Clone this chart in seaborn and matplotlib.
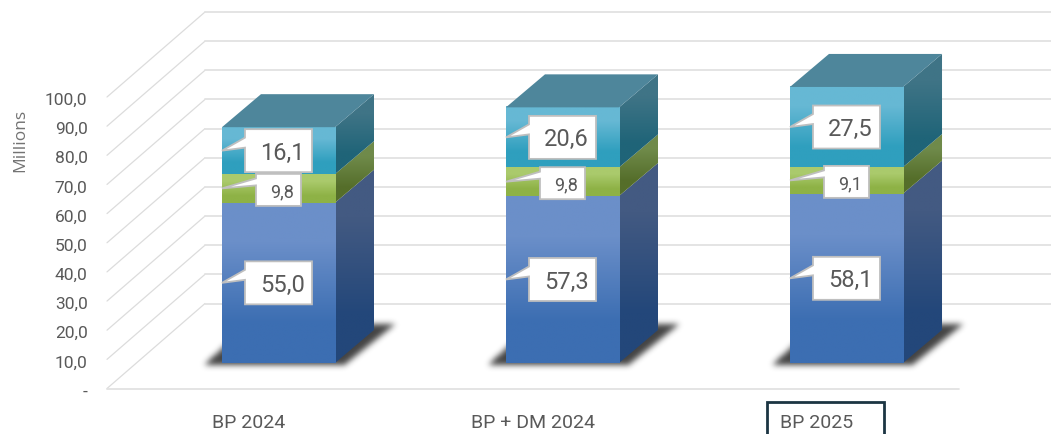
import numpy as np
import pandas as pd
import matplotlib
matplotlib.use('Agg')
import matplotlib.pyplot as plt
import seaborn as sns
from matplotlib.colors import to_rgb
from matplotlib.patches import Polygon, Rectangle
from matplotlib.path import Path
from matplotlib.transforms import ScaledTranslation

categories = ['BP 2024', 'BP + DM 2024', 'BP 2025']
base_values = [55.0, 57.3, 58.1]
middle_values = [9.8, 9.8, 9.1]
top_values = [16.1, 20.6, 27.5]
y_ticks = [0, 10, 20, 30, 40, 50, 60, 70, 80, 90, 100]

# front, side colours of each layer, top colour then bottom colour
base_front = ['#6b8fc9', '#3c6eb2']
base_side = ['#435a82', '#23477a']
middle_front = ['#aaca6c', '#8eb246']
middle_side = ['#6f8a4a', '#556e2a']
top_front = ['#66b8d4', '#2f9fbe']
top_side = ['#3f7486', '#1f6478']
roof_color = '#4e869b'

# pixel scales of the picture
PX_X = 284.0
PX_Y = 2.915


def dx(px):
    return px / PX_X


def dy(px):
    return px / PX_Y


WALL_X, WALL_Y = dx(98), dy(85)
BAR_X, BAR_Y = dx(29.5), dy(25.5)
DEPTH_X, DEPTH_Y = dx(39), dy(33)


def gradient(ax, colors, left, right, low, high, zorder, clip=None):
    rows = np.array([[to_rgb(colors[0])], [to_rgb(colors[1])]])
    im = ax.imshow(rows, extent=(left, right, low, high), aspect='auto',
                   interpolation='bilinear', zorder=zorder)
    if clip is not None:
        im.set_clip_path(clip)


def blurred_shadow(ax, left, right, floor, sigma=3.0):
    # work in pixels around the bar foot, then blur the filled shape
    width = right - left
    w_px = int(width * PX_X)
    xs = np.arange(-45, w_px + 90)
    ys = np.arange(-15, 55)
    shape = [(-19, -3), (w_px + 9, -3), (w_px + 60, 38), (w_px + 36, 38), (4, 18)]
    gx, gy = np.meshgrid(xs, ys)
    mask = Path(shape).contains_points(np.c_[gx.ravel(), gy.ravel()]).reshape(gx.shape).astype(float)
    r = np.arange(-8, 9)
    kernel = np.exp(-r ** 2 / (2 * sigma ** 2))
    kernel /= kernel.sum()
    mask = np.apply_along_axis(np.convolve, 0, mask, kernel, mode='same')
    mask = np.apply_along_axis(np.convolve, 1, mask, kernel, mode='same')
    rgba = np.zeros(mask.shape + (4,))
    rgba[..., :3] = 0.08
    rgba[..., 3] = mask * 0.8
    im = ax.imshow(rgba, origin='lower', aspect='auto', interpolation='bilinear', zorder=2,
                   extent=(left + dx(xs[0]), left + dx(xs[-1]), floor + dy(ys[0]), floor + dy(ys[-1])))
    im.set_clip_on(False)


def callout(ax, left, center, value, small, zorder):
    # box and its pointer share one outline
    box_l = left + dx(34 if small else 23)
    box_r = left + dx(79 if small else 90)
    half = dy(16 if small else 21.5)
    shift = dy(-1.5 if small else 0)
    top = center + half + shift
    low = center - half + shift
    pts = [(left, center), (box_l, center + dy(10 if small else 13)), (box_l, top),
           (box_r, top), (box_r, low), (box_l, low), (box_l, center + dy(3))]
    ax.add_patch(Polygon(pts, closed=True, facecolor='white', edgecolor='#bfbfbf',
                         linewidth=1.3, zorder=zorder))
    ax.text((box_l + box_r) / 2 + dx(4), center + shift, f'{value:.1f}'.replace('.', ','),
            ha='center', va='center_baseline', color='#595959', fontsize=13 if small else 17,
            zorder=zorder + 1)


sns.set_theme(style='white')
plt.rcParams['font.family'] = ['Roboto', 'DejaVu Sans']

fig = plt.figure(figsize=(10.51, 4.34), dpi=100)
ax = fig.add_axes([107 / 1051, (434 - 388.5) / 434, 852 / 1051, 132 * PX_Y / 434])

base = np.array(base_values)
middle = base + np.array(middle_values)
total = middle + np.array(top_values)
df = pd.DataFrame({'category': categories, 'base': base_values,
                   'middle': middle_values, 'top': top_values})

layers = [
    ('base', np.zeros(3), base_front, base_side),
    ('middle', base, middle_front, middle_side),
    ('top', middle, top_front, top_side),
]

for name, bottom, front, side in layers:
    before = len(ax.patches)
    sns.barplot(data=df, x='category', y=name, order=categories, color=front[0], width=0.398,
                bottom=bottom, errorbar=None, ax=ax, zorder=4)
    for patch in ax.patches[before:]:
        left = patch.get_x() + BAR_X
        right = left + patch.get_width()
        low = patch.get_y() + BAR_Y
        high = low + patch.get_height()
        patch.set_visible(False)
        gradient(ax, front, left, right, low, high, 4)
        face = Polygon([(right, low), (right + DEPTH_X, low + DEPTH_Y),
                        (right + DEPTH_X, high + DEPTH_Y), (right, high)],
                       closed=True, facecolor='none', edgecolor='none',
                       transform=ax.transData)
        ax.add_patch(face)
        gradient(ax, side, right, right + DEPTH_X, low, high + DEPTH_Y, 3.5, clip=face)

for i, cat in enumerate(categories):
    left = i - 0.199 + BAR_X
    right = i + 0.199 + BAR_X
    floor = BAR_Y
    roof = total[i] + BAR_Y
    ax.add_patch(Polygon([(left, roof), (left + DEPTH_X, roof + DEPTH_Y),
                          (right + DEPTH_X, roof + DEPTH_Y), (right, roof)],
                         closed=True, facecolor=roof_color, edgecolor='none', zorder=4))

    blurred_shadow(ax, left, right, floor)

    callout(ax, left, floor + base[i] / 2, base_values[i], False, 6)
    callout(ax, left, floor + base[i] + middle_values[i] / 2, middle_values[i], True, 6)
    callout(ax, left, floor + middle[i] + top_values[i] / 2, top_values[i], False, 6)

# walls and floor lines
for v in y_ticks:
    xs = [-0.5, -0.5 + WALL_X, 2.5 + WALL_X]
    ys = [v, v + WALL_Y, v + WALL_Y]
    ax.plot(xs[:2], ys[:2], color='#dcdcdc', lw=0.9, zorder=1, clip_on=False)
    ax.plot(xs[1:], ys[1:], color='#e2e2e2', lw=1.3, zorder=1, clip_on=False)
ax.plot([-0.5, 2.5], [0, 0], color='#e2e2e2', lw=1.3, zorder=1, clip_on=False)

ax.set_xlim(-0.5, 2.5)
ax.set_ylim(0, 132)
sns.despine(ax=ax, left=True, bottom=True)
ax.set_yticks(y_ticks)
ax.set_yticklabels(['-' if v == 0 else f'{v:.1f}'.replace('.', ',') for v in y_ticks],
                   fontsize=12.5, color='#595959')
ax.tick_params(axis='y', length=0, pad=14)
ax.tick_params(axis='x', length=0, pad=18, labelsize=14, labelcolor='#595959')
down = ScaledTranslation(0, -2 / 100, fig.dpi_scale_trans)
for lab in ax.get_yticklabels():
    lab.set_transform(lab.get_transform() + down)
ax.set_xlabel('')
ax.set_ylabel('Millions', fontsize=12.5, color='#737373', family='Open Sans')
ax.yaxis.set_label_coords(-0.093, (388.5 - 140) / (132 * PX_Y))

# highlight frame around the last label, it runs off the bottom of the picture
ax.add_patch(Rectangle((-0.5 + dx(767 - 107), dy(-60)), dx(117), dy(60 - 13.5), facecolor='none',
                       edgecolor='#1c3543', linewidth=2, clip_on=False, zorder=7))

fig.savefig('out.png', dpi=100)
